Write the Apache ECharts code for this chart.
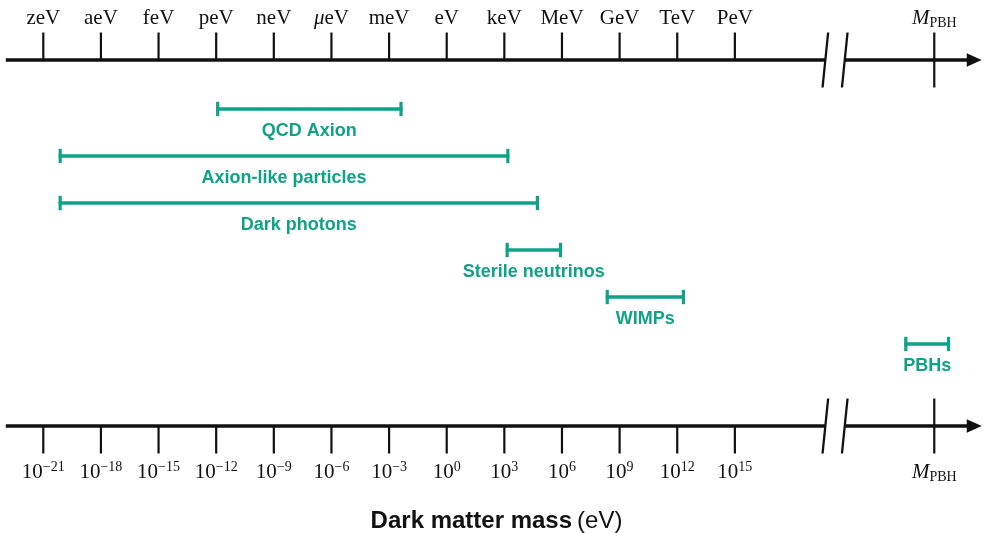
<!DOCTYPE html>
<html>
<head>
<meta charset="utf-8">
<script src="https://cdn.jsdelivr.net/npm/echarts@6/dist/echarts.min.js"></script>
<style>
html,body{margin:0;padding:0;background:#fff;}
#chart{width:993px;height:533px;}
</style>
</head>
<body>
<div id="chart"></div>
<script>
// ---- data (x in log10(eV); after the break x is a display position) ----
const categories = ['QCD Axion', 'Axion-like particles', 'Dark photons', 'Sterile neutrinos', 'WIMPs', 'PBHs'];
const rangeLow  = [-12.0, -20.2, -20.2, 3.07, 8.28, 23.82];
const rangeHigh = [-2.3, 3.26, 4.8, 6.0, 12.4, 26.2];
const tickExponents = [-21, -18, -15, -12, -9, -6, -3, 0, 3, 6, 9, 12, 15];
const unitLabels = ['zeV', 'aeV', 'feV', 'peV', 'neV', 'μeV', 'meV', 'eV', 'keV', 'MeV', 'GeV', 'TeV', 'PeV'];
const MPBH_POS = 25.38;
const breakMarks = [19.71, 20.72];
const axisStart = -22.95, arrowBase = 27.07, arrowTip = 27.85;

const GREEN = '#0fa386';
const INK = '#111111';
const SERIF = '"Liberation Serif", "DejaVu Serif", serif';
const SANS = '"Liberation Sans", Arial, sans-serif';

const chart = echarts.init(document.getElementById('chart'), null, {renderer: 'canvas'});

const serifRich = {
  t: {fontFamily: SERIF, fontSize: 21, color: INK, lineHeight: 24},
  mu: {fontFamily: SERIF, fontSize: 21, color: INK, lineHeight: 24, fontStyle: 'italic'},
  b: {fontFamily: SERIF, fontSize: 21, color: INK, lineHeight: 24},
  s: {fontFamily: SERIF, fontSize: 14, color: INK, lineHeight: 14, verticalAlign: 'top'},
  m: {fontFamily: SERIF, fontSize: 21, color: INK, lineHeight: 24, fontStyle: 'italic'},
  p: {fontFamily: SERIF, fontSize: 14, color: INK, lineHeight: 12, verticalAlign: 'bottom'}
};

function findIdx(v) {
  for (let i = 0; i < tickExponents.length; i++) if (Math.abs(tickExponents[i] - v) < 1e-6) return i;
  return -1;
}
function topFormatter(v) {
  if (Math.abs(v - MPBH_POS) < 1e-6) return '{m|M}{p|PBH}';
  const i = findIdx(v);
  if (i < 0) return '';
  const u = unitLabels[i];
  if (u.charAt(0) === 'μ') return '{mu|μ}{t|eV}';
  return '{t|' + u + '}';
}
function bottomFormatter(v) {
  if (Math.abs(v - MPBH_POS) < 1e-6) return '{m|M}{p|PBH}';
  const i = findIdx(v);
  if (i < 0) return '';
  const e = tickExponents[i];
  return '{b|10}{s|' + (e < 0 ? '\u2212' + (-e) : String(e)) + '}';
}

const labelValues = tickExponents.concat([MPBH_POS]);

function axisCommon(position, formatter, margin) {
  return {
    type: 'value',
    position: position,
    min: -23, max: 28,
    axisLine: {show: false},
    splitLine: {show: false},
    axisTick: {show: false},
    axisLabel: {show: true, customValues: labelValues, formatter: formatter, margin: margin, rich: serifRich, hideOverlap: false}
  };
}

function renderAxes(params, api) {
  const cs = params.coordSys;
  const px = v => api.coord([v, 0])[0];
  const ys = [cs.y, cs.y + cs.height];
  const dirs = [-1, 1];
  const children = [];
  ys.forEach((y, k) => {
    children.push({type: 'line', shape: {x1: px(axisStart), y1: y, x2: px(breakMarks[0]), y2: y}, style: {stroke: INK, lineWidth: 3.6}});
    children.push({type: 'line', shape: {x1: px(breakMarks[1]), y1: y, x2: px(arrowBase) + 1, y2: y}, style: {stroke: INK, lineWidth: 3.6}});
    children.push({type: 'polygon', shape: {points: [[px(arrowBase), y - 6.7], [px(arrowTip), y], [px(arrowBase), y + 6.7]]}, style: {fill: INK}});
    tickExponents.forEach(e => {
      const x = px(e);
      children.push({type: 'line', shape: {x1: x, y1: y, x2: x, y2: y + dirs[k] * 27.5}, style: {stroke: INK, lineWidth: 2.2}});
    });
    breakMarks.forEach(b => {
      const x = px(b);
      children.push({type: 'line', shape: {x1: x + 2.8, y1: y - 27.5, x2: x - 2.8, y2: y + 27.5}, style: {stroke: INK, lineWidth: 2.3}});
    });
    const xm = px(MPBH_POS);
    children.push({type: 'line', shape: {x1: xm, y1: y - 27.5, x2: xm, y2: y + 27.5}, style: {stroke: INK, lineWidth: 2.2}});
  });
  return {type: 'group', children: children};
}

function renderRanges(params, api) {
  const a = api.coord([api.value(0), api.value(2)]);
  const b = api.coord([api.value(1), api.value(2)]);
  const y = a[1];
  const name = categories[params.dataIndex];
  return {
    type: 'group',
    children: [
      {type: 'line', shape: {x1: a[0], y1: y, x2: b[0], y2: y}, style: {stroke: GREEN, lineWidth: 3.6}},
      {type: 'line', shape: {x1: a[0] + 1.5, y1: y - 7.2, x2: a[0] + 1.5, y2: y + 7.2}, style: {stroke: GREEN, lineWidth: 3.2}},
      {type: 'line', shape: {x1: b[0] - 1.5, y1: y - 7.2, x2: b[0] - 1.5, y2: y + 7.2}, style: {stroke: GREEN, lineWidth: 3.2}},
      {type: 'text', style: {text: name, x: (a[0] + b[0]) / 2, y: y + 22.5, align: 'center', verticalAlign: 'middle',
        fill: GREEN, font: 'bold 18px ' + SANS}}
    ]
  };
}

const rangeData = categories.map((c, i) => [rangeLow[i], rangeHigh[i], i]);

chart.setOption({
  animation: false,
  backgroundColor: '#ffffff',
  title: {
    text: '{b|Dark matter mass} {n|(eV)}',
    left: 'center',
    top: 502,
    textStyle: {
      rich: {
        b: {fontFamily: SANS, fontWeight: 'bold', fontSize: 24, color: INK, lineHeight: 28},
        n: {fontFamily: SANS, fontWeight: 'normal', fontSize: 24, color: INK, lineHeight: 28}
      }
    }
  },
  grid: {left: 4.87, right: 8.4, top: 60, bottom: 107, containLabel: false},
  xAxis: [
    axisCommon('top', topFormatter, 30),
    axisCommon('bottom', bottomFormatter, 34)
  ],
  yAxis: {type: 'value', min: -1.0426, max: 6.745, inverse: true, show: false},
  series: [
    {type: 'custom', name: 'axes', xAxisIndex: 0, clip: false, silent: true, data: [[0, 0]], renderItem: renderAxes, z: 1},
    {type: 'custom', name: 'ranges', xAxisIndex: 0, clip: false, data: rangeData, encode: {x: [0, 1], y: 2}, renderItem: renderRanges, z: 2}
  ]
});
</script>
</body>
</html>
